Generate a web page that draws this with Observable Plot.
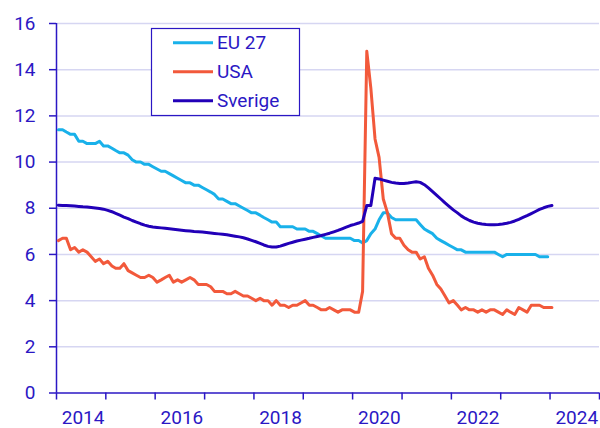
<!DOCTYPE html>
<html>
<head>
<meta charset="utf-8">
<script src="https://cdn.jsdelivr.net/npm/d3@7"></script>
<script src="https://cdn.jsdelivr.net/npm/@observablehq/plot@0.6"></script>
<style>
  html, body { margin: 0; padding: 0; background: #ffffff; }
  #chart { width: 600px; height: 428px; }
</style>
</head>
<body>
<div id="chart"></div>
<script>
// Monthly unemployment rates (%), Jan 2014 onwards
const seriesNames = ["EU 27", "USA", "Sverige"];

const eu27 = [
  11.4, 11.4, 11.3, 11.2, 11.2, 10.9, 10.9, 10.8, 10.8, 10.8, 10.9, 10.7,
  10.7, 10.6, 10.5, 10.4, 10.4, 10.3, 10.1, 10.0, 10.0, 9.9, 9.9, 9.8,
  9.7, 9.6, 9.6, 9.5, 9.4, 9.3, 9.2, 9.1, 9.1, 9.0, 9.0, 8.9,
  8.8, 8.7, 8.6, 8.4, 8.4, 8.3, 8.2, 8.2, 8.1, 8.0, 7.9, 7.8,
  7.8, 7.7, 7.6, 7.5, 7.4, 7.4, 7.2, 7.2, 7.2, 7.2, 7.1, 7.1,
  7.1, 7.0, 7.0, 6.9, 6.8, 6.7, 6.7, 6.7, 6.7, 6.7, 6.7, 6.7,
  6.6, 6.6, 6.5, 6.6, 6.9, 7.1, 7.5, 7.8, 7.8, 7.6, 7.5, 7.5,
  7.5, 7.5, 7.5, 7.5, 7.3, 7.1, 7.0, 6.9, 6.7, 6.6, 6.5, 6.4,
  6.3, 6.2, 6.2, 6.1, 6.1, 6.1, 6.1, 6.1, 6.1, 6.1, 6.1, 6.0,
  5.9, 6.0, 6.0, 6.0, 6.0, 6.0, 6.0, 6.0, 6.0, 5.9, 5.9, 5.9
];

const usa = [
  6.6, 6.7, 6.7, 6.2, 6.3, 6.1, 6.2, 6.1, 5.9, 5.7, 5.8, 5.6,
  5.7, 5.5, 5.4, 5.4, 5.6, 5.3, 5.2, 5.1, 5.0, 5.0, 5.1, 5.0,
  4.8, 4.9, 5.0, 5.1, 4.8, 4.9, 4.8, 4.9, 5.0, 4.9, 4.7, 4.7,
  4.7, 4.6, 4.4, 4.4, 4.4, 4.3, 4.3, 4.4, 4.3, 4.2, 4.2, 4.1,
  4.0, 4.1, 4.0, 4.0, 3.8, 4.0, 3.8, 3.8, 3.7, 3.8, 3.8, 3.9,
  4.0, 3.8, 3.8, 3.7, 3.6, 3.6, 3.7, 3.6, 3.5, 3.6, 3.6, 3.6,
  3.5, 3.5, 4.4, 14.8, 13.2, 11.0, 10.2, 8.4, 7.8, 6.9, 6.7, 6.7,
  6.4, 6.2, 6.1, 6.1, 5.8, 5.9, 5.4, 5.1, 4.7, 4.5, 4.2, 3.9,
  4.0, 3.8, 3.6, 3.7, 3.6, 3.6, 3.5, 3.6, 3.5, 3.6, 3.6, 3.5,
  3.4, 3.6, 3.5, 3.4, 3.7, 3.6, 3.5, 3.8, 3.8, 3.8, 3.7, 3.7,
  3.7
];

const sverige = [
  8.13, 8.12, 8.12, 8.11, 8.10, 8.08, 8.06, 8.05, 8.03, 8.01, 7.99, 7.96,
  7.91, 7.85, 7.78, 7.70, 7.62, 7.55, 7.47, 7.40, 7.33, 7.27, 7.22, 7.19,
  7.17, 7.15, 7.13, 7.11, 7.09, 7.07, 7.05, 7.03, 7.01, 6.99, 6.98, 6.97,
  6.95, 6.93, 6.91, 6.89, 6.87, 6.85, 6.82, 6.79, 6.76, 6.72, 6.67, 6.61,
  6.55, 6.48, 6.41, 6.35, 6.32, 6.32, 6.36, 6.42, 6.48, 6.53, 6.58, 6.62,
  6.66, 6.70, 6.74, 6.78, 6.82, 6.87, 6.92, 6.98, 7.04, 7.11, 7.18, 7.25,
  7.30, 7.36, 7.43, 8.12, 8.12, 9.30, 9.27, 9.22, 9.17, 9.12, 9.09, 9.07,
  9.07, 9.09, 9.12, 9.15, 9.12, 9.02, 8.88, 8.72, 8.56, 8.40, 8.23, 8.08,
  7.93, 7.80, 7.67, 7.56, 7.47, 7.40, 7.35, 7.32, 7.30, 7.29, 7.29, 7.30,
  7.32, 7.35, 7.39, 7.45, 7.52, 7.60, 7.68, 7.77, 7.86, 7.95, 8.02, 8.08,
  8.12
];

const yTicks = [0, 2, 4, 6, 8, 10, 12, 14, 16];
const yearTicks = [2014, 2015, 2016, 2017, 2018, 2019, 2020, 2021, 2022, 2023, 2024, 2025];
const yearLabels = [2014, 2016, 2018, 2020, 2022, 2024];

const colors = { "EU 27": "#19b1ea", "USA": "#f2593b", "Sverige": "#2200b8" };
const ink = "#2b17c4";

const toRows = (name, values) =>
  values.map((v, i) => ({ series: name, date: new Date(Date.UTC(2014, i, 15)), value: v }));

const rows = [
  ...toRows("EU 27", eu27),
  ...toRows("USA", usa),
  ...toRows("Sverige", sverige)
];

const yearDate = (y) => new Date(Date.UTC(y, 0, 1));
const midYear = (y) => new Date(Date.UTC(y, 6, 2));

const chart = Plot.plot({
  width: 600,
  height: 428,
  marginLeft: 56,
  marginRight: 1,
  marginTop: 23,
  marginBottom: 35.5,
  style: { fontFamily: "Roboto, sans-serif", fontSize: "19px", color: ink, background: "#ffffff", overflow: "visible" },
  x: { type: "utc", domain: [yearDate(2014), yearDate(2025)] },
  y: { domain: [0, 16] },
  marks: [
    Plot.gridY(yTicks.filter(d => d > 0), { stroke: "#d6d6f2", strokeOpacity: 1, strokeWidth: 1.5 }),
    Plot.axisY(yTicks, { tickSize: 7, tickPadding: 14, label: null, stroke: ink, strokeWidth: 1.5, fill: ink }),
    Plot.axisX(yearTicks.map(yearDate), { tickSize: 7, tickFormat: () => "", label: null, stroke: ink, strokeWidth: 1.5 }),
    Plot.axisX(yearLabels.map(midYear), { tickSize: 0, tickPadding: 17, tickFormat: d => String(d.getUTCFullYear()), label: null, fill: ink, dx: 2 }),
    Plot.ruleY([0], { stroke: ink, strokeWidth: 1.5 }),
    Plot.ruleX([yearDate(2014)], { stroke: ink, strokeWidth: 1.5 }),
    Plot.line(rows, {
      x: "date", y: "value", z: "series",
      stroke: d => colors[d.series],
      strokeWidth: 3, strokeLinejoin: "round", strokeLinecap: "round"
    })
  ]
});

// Legend inside the plot area
const svg = d3.select(chart);
const lg = svg.append("g")
  .attr("font-family", "Roboto, sans-serif")
  .attr("font-size", 19)
  .attr("text-anchor", "start");
lg.append("rect")
  .attr("x", 151.5).attr("y", 28.5).attr("width", 148).attr("height", 87)
  .attr("fill", "#ffffff").attr("stroke", ink).attr("stroke-width", 1.2);
seriesNames.forEach((name, i) => {
  const yy = 42.7 + i * 29;
  lg.append("line")
    .attr("x1", 173).attr("x2", 213).attr("y1", yy).attr("y2", yy)
    .attr("stroke", colors[name]).attr("stroke-width", 3);
  lg.append("text")
    .attr("x", 217).attr("y", yy).attr("dy", "0.35em")
    .attr("text-anchor", "start")
    .attr("fill", ink).text(name);
});

document.getElementById("chart").appendChild(chart);
</script>
</body>
</html>
